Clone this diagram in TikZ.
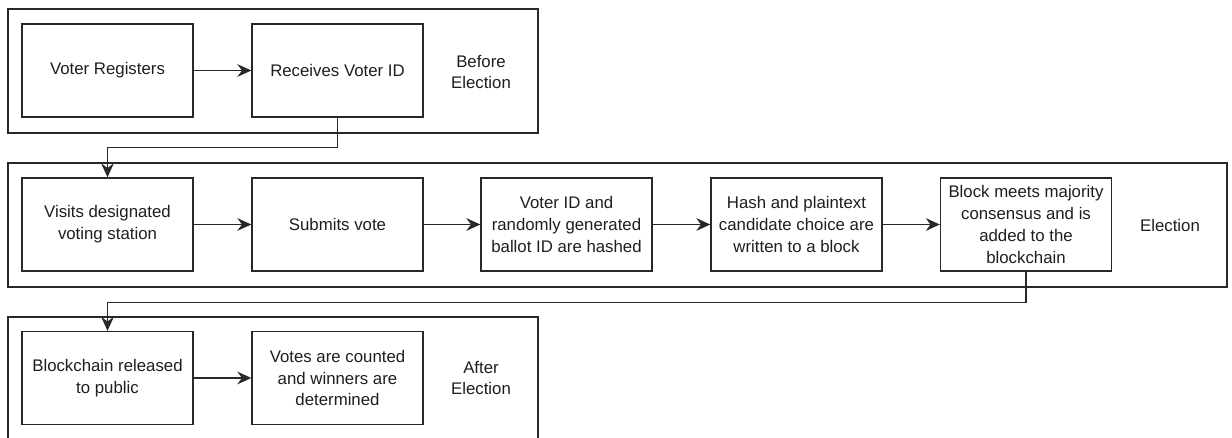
\documentclass[tikz,border=0pt]{standalone}
\usepackage{fontspec}
\setmainfont{Liberation Sans}
\usetikzlibrary{arrows.meta}
\definecolor{linecol}{RGB}{40,40,40}
\definecolor{txtcol}{RGB}{30,30,30}
\tikzset{
  stepbox/.style={draw=linecol, line width=1pt, minimum width=128.25pt, minimum height=69.75pt,
    inner sep=0pt, align=center, text=txtcol, font=\fontsize{12.6}{16.3}\selectfont},
  frame/.style={draw=linecol, line width=1pt},
  phase/.style={align=center, text=txtcol, font=\fontsize{12.6}{16.3}\selectfont},
  arr/.style={draw=linecol, line width=1pt, -{Stealth[length=10.5pt,width=9.5pt,inset=3.5pt]}}
}
\begin{document}
\begin{tikzpicture}[x=0.75pt,y=-0.75pt]
\useasboundingbox (0,0) rectangle (1232,438);
\clip (0,0) rectangle (1232,438);
% frames
\draw[frame] (8,9) rectangle (538,133);
\draw[frame] (8,163) rectangle (1227,287);
\draw[frame] (8,317) rectangle (538,470);
% row 1
\node[stepbox] (r1a) at (107.5,70.5) {Voter Registers};
\node[stepbox] (r1b) at (337.5,70.5) {Receives Voter ID};
\node[phase] (p1) at (481,72) {Before\\Election};
% row 2
\node[stepbox] (r2a) at (107.5,224.5) {Visits designated\\voting station};
\node[stepbox] (r2b) at (337.5,224.5) {Submits vote};
\node[stepbox] (r2c) at (566.5,224.5) {Voter ID and\\randomly generated\\ballot ID are hashed};
\node[stepbox] (r2d) at (796.5,224.5) {Hash and plaintext\\candidate choice are\\written to a block};
\node[stepbox] (r2e) at (1026,224.5) {Block meets majority\\consensus and is\\added to the\\blockchain};
\node[phase] (p2) at (1170,225) {Election};
% row 3
\node[stepbox] (r3a) at (107.5,378) {Blockchain released\\to public};
\node[stepbox] (r3b) at (337.5,378) {Votes are counted\\and winners are\\determined};
\node[phase] (p3) at (481,378) {After\\Election};
% connectors
\draw[arr] (r1a) -- (r1b);
\draw[arr] (r1b.south) -- ++(0,30) -| (r2a.north);
\draw[arr] (r2a) -- (r2b);
\draw[arr] (r2b) -- (r2c);
\draw[arr] (r2c) -- (r2d);
\draw[arr] (r2d) -- (r2e);
\draw[arr] (r2e.south) -- ++(0,31) -| (r3a.north);
\draw[arr] (r3a) -- (r3b);
\end{tikzpicture}
\end{document}
